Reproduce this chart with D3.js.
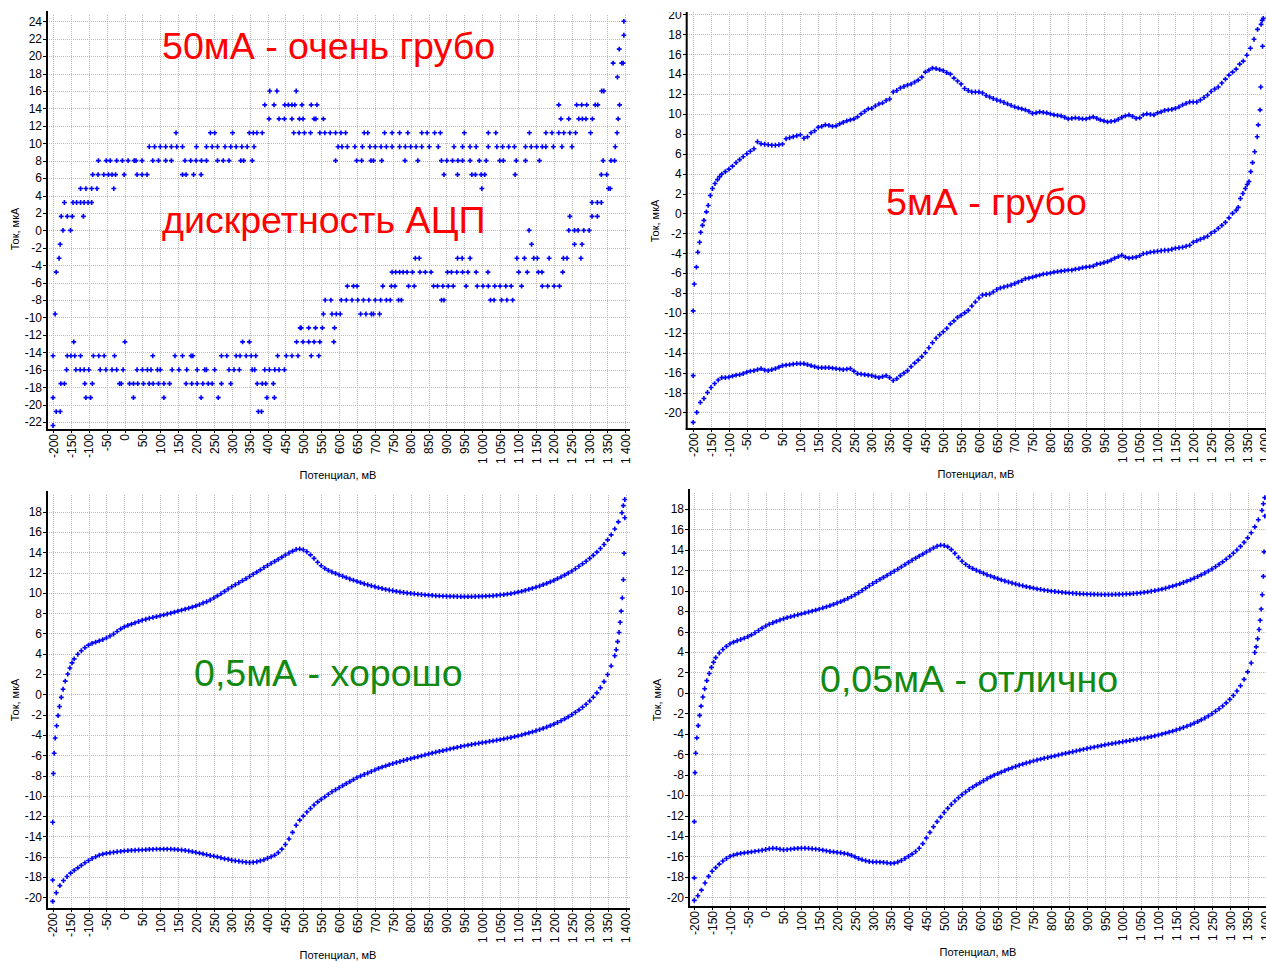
<!DOCTYPE html>
<html>
<head>
<meta charset="utf-8">
<script src="https://cdn.jsdelivr.net/npm/d3@7"></script>
<style>
  body { margin: 0; background: #fff; }
  svg { display: block; font-family: "Liberation Sans", Arial, sans-serif; }
  .grid line { stroke: #bcbcbc; stroke-dasharray: 1,1; shape-rendering: crispEdges; }
  .axis text { font-size: 12px; fill: #000; }
  .axis line { stroke: #000; shape-rendering: crispEdges; }
</style>
</head>
<body>
<svg id="chart" width="1266" height="961"></svg>
<script>
// potential grid, mV (sweep step of the smooth panels)
const potentials = [
  -200,-190,-180,-170,-160,-150,-140,-130,-120,-110,
  -100,-90,-80,-70,-60,-50,-40,-30,-20,-10,
  0,10,20,30,40,50,60,70,80,90,
  100,110,120,130,140,150,160,170,180,190,
  200,210,220,230,240,250,260,270,280,290,
  300,310,320,330,340,350,360,370,380,390,
  400,410,420,430,440,450,460,470,480,490,
  500,510,520,530,540,550,560,570,580,590,
  600,610,620,630,640,650,660,670,680,690,
  700,710,720,730,740,750,760,770,780,790,
  800,810,820,830,840,850,860,870,880,890,
  900,910,920,930,940,950,960,970,980,990,
  1000,1010,1020,1030,1040,1050,1060,1070,1080,1090,
  1100,1110,1120,1130,1140,1150,1160,1170,1180,1190,
  1200,1210,1220,1230,1240,1250,1260,1270,1280,1290,
  1300,1310,1320,1330,1340,1350,1360,1370,1380,1390,
  1400
];

const xTicks = [-200,-150,-100,-50,0,50,100,150,200,250,300,350,400,450,500,550,600,650,700,
  750,800,850,900,950,1000,1050,1100,1150,1200,1250,1300,1350,1400];
const yTicks1 = [-22,-20,-18,-16,-14,-12,-10,-8,-6,-4,-2,0,2,4,6,8,10,12,14,16,18,20,22,24];
const yTicks2 = [-20,-18,-16,-14,-12,-10,-8,-6,-4,-2,0,2,4,6,8,10,12,14,16,18,20];
const yTicks3 = [-20,-18,-16,-14,-12,-10,-8,-6,-4,-2,0,2,4,6,8,10,12,14,16,18];

// ---- panel 1 : 50 mA, ADC levels (uA) and potentials where a point sits on each level
const p1Levels = [24, 22.4, 20.8, 19.2, 17.6, 16, 14.4, 12.8, 11.2, 9.6, 8, 6.4, 4.8, 3.2, 1.6, 0,
  -1.6, -3.2, -4.8, -6.4, -8, -9.6, -11.2, -12.8, -14.4, -16, -17.6, -19.2, -20.8, -22.4];
const p1Potentials = [
  [1396],
  [1396],
  [1383],
  [1366, 1390, 1394],
  [1378],
  [406, 426, 480, 1334, 1340],
  [392, 418, 448, 458, 468, 476, 496, 522, 538, 1214, 1264, 1278, 1292, 1316, 1323, 1384],
  [404, 432, 447, 468, 489, 499, 530, 535, 556, 1220, 1242, 1270, 1280, 1290, 1308, 1380],
  [144, 240, 252, 302, 349, 360, 370, 385, 473, 488, 503, 520, 546, 560, 575, 590, 605, 618, 670, 680,
   727, 748, 769, 792, 831, 846, 867, 883, 950, 1017, 1038, 1132, 1178, 1195, 1214, 1228, 1245, 1261, 1303, 1377],
  [69, 84, 100, 115, 131, 146, 162, 201, 229, 245, 260, 281, 297, 312, 328, 343, 362, 597, 608, 623,
   644, 665, 686, 701, 717, 732, 748, 769, 785, 800, 815, 831, 852, 877, 921, 945, 966, 983, 1017, 1041,
   1057, 1074, 1090, 1121, 1137, 1152, 1168, 1178, 1199, 1223, 1251, 1372],
  [-73, -51, -40, -22, -6, 10, 27, 32, 49, 79, 95, 115, 131, 169, 185, 200, 215, 229, 260, 276,
   292, 325, 333, 357, 590, 649, 663, 689, 696, 719, 784, 820, 886, 901, 917, 932, 945, 966, 992, 1011,
   1049, 1059, 1095, 1121, 1160, 1338, 1360, 1370],
  [-89, -74, -58, -45, -35, -25, -1, 35, 49, 63, 162, 172, 193, 214, 893, 931, 971, 981, 997, 1007, 1092, 1333, 1348],
  [-123, -108, -92, -77, -30, 999, 1353, 1358],
  [-168, -144, -134, -123, -113, -102, -92, 1307, 1322, 1333],
  [-177, -160, -146, -115, 1245, 1307, 1322],
  [-172, -151, 1131, 1242, 1258, 1268, 1284, 1299],
  [-180, 1138, 1258, 1279],
  [-183, 813, 824, 931, 944, 966, 1097, 1118, 1144, 1154, 1187, 1227, 1237, 1276],
  [-191, 748, 758, 769, 779, 790, 805, 826, 841, 857, 903, 914, 929, 945, 960, 983, 1016, 1102, 1126, 1157, 1167, 1225],
  [623, 640, 650, 722, 746, 756, 794, 810, 864, 875, 890, 905, 919, 955, 986, 1002, 1017, 1035, 1050, 1066,
   1081, 1110, 1168, 1183, 1201, 1216],
  [561, 577, 606, 620, 636, 652, 668, 683, 701, 716, 732, 743, 766, 774, 886, 893, 1023, 1033, 1054, 1069, 1085],
  [-194, 556, 580, 592, 603, 660, 675, 690, 696, 713],
  [491, 494, 515, 534, 553, 587],
  [-142, 1, 330, 349, 481, 499, 515, 530, 546, 585],
  [-200, -160, -150, -139, -123, -87, -72, -57, -28, 79, 141, 162, 186, 191, 271, 286, 312, 323, 340, 354,
   367, 428, 452, 468, 485, 522, 543],
  [-162, -136, -124, -113, -100, -68, -52, -35, -22, -4, 35, 50, 64, 74, 92, 100, 133, 152, 174, 203,
   224, 229, 252, 292, 306, 321, 357, 364, 392, 405, 420, 432, 447],
  [-178, -168, -111, -90, -14, -9, 14, 25, 37, 53, 69, 80, 95, 110, 126, 172, 188, 203, 219, 234,
   245, 271, 297, 371, 385, 395, 416],
  [-200, -108, -95, 25, 110, 214, 262, 398, 419],
  [-191, -180, 374, 383],
  [-200]
];

// ---- panel 2 : 5 mA
const p2Fwd = [
  null,null,null,null,null,null,null,null,3.95,4.2,
  4.45,4.75,5.1,5.4,5.7,6.0,6.25,6.5,7.2,7.0,
  6.95,6.9,6.85,6.85,6.9,6.97,7.5,7.6,7.7,7.8,
  7.9,7.55,7.7,8.1,8.3,8.65,8.75,8.9,8.85,8.75,
  8.8,9.0,9.15,9.3,9.4,9.5,9.7,10.0,10.25,10.5,
  10.55,10.8,11.0,11.1,11.35,11.5,12.2,12.35,12.6,12.75,
  12.9,13.0,13.2,13.4,13.7,14.2,14.4,14.6,14.55,14.45,
  14.35,14.15,14.0,13.6,13.3,13.0,12.55,12.35,12.2,12.2,
  12.2,12.1,11.85,11.7,11.55,11.4,11.3,11.15,11.0,10.85,
  10.7,10.6,10.5,10.4,10.25,10.05,10.1,10.2,10.15,10.1,
  10.0,9.9,9.85,9.8,9.65,9.5,9.55,9.6,9.55,9.5,
  9.5,9.6,9.7,9.55,9.4,9.3,9.2,9.25,9.3,9.45,
  9.65,9.8,9.9,9.75,9.55,9.6,9.9,10.0,9.95,9.9,
  10.1,10.2,10.35,10.4,10.45,10.55,10.7,10.9,11.05,11.2,
  11.2,11.2,11.4,11.65,11.9,12.25,12.5,12.7,13.1,13.5,
  13.9,14.2,14.5,15.0,15.3,15.9,16.6,17.5,18.5,19.0,
  null
];
const p2Rev = [
  -21.0,-20.0,-19.0,-18.6,-18.0,-17.5,-17.1,-16.75,-16.5,-16.5,
  -16.45,-16.35,-16.25,-16.2,-16.1,-15.95,-15.85,-15.8,-15.7,-15.6,
  -15.75,-15.8,-15.7,-15.6,-15.45,-15.3,-15.25,-15.2,-15.15,-15.1,
  -15.1,-15.1,-15.2,-15.3,-15.4,-15.5,-15.5,-15.5,-15.5,-15.55,
  -15.6,-15.65,-15.7,-15.65,-15.6,-15.85,-16.1,-16.15,-16.2,-16.25,
  -16.3,-16.4,-16.5,-16.4,-16.3,-16.5,-16.8,-16.6,-16.3,-16.05,
  -15.8,-15.4,-15.05,-14.75,-14.4,-14.0,-13.5,-13.0,-12.55,-12.2,
  -11.9,-11.55,-11.1,-10.8,-10.45,-10.25,-10.0,-9.75,-9.3,-8.9,
  -8.5,-8.2,-8.15,-8.1,-7.9,-7.65,-7.5,-7.4,-7.3,-7.2,
  -7.05,-6.9,-6.75,-6.55,-6.5,-6.4,-6.3,-6.2,-6.1,-6.05,
  -6.0,-5.9,-5.85,-5.8,-5.75,-5.7,-5.7,-5.6,-5.55,-5.45,
  -5.4,-5.35,-5.3,-5.1,-5.05,-4.95,-4.85,-4.7,-4.5,-4.35,
  -4.2,-4.4,-4.5,-4.45,-4.4,-4.25,-4.05,-4.0,-3.9,-3.85,
  -3.8,-3.75,-3.7,-3.7,-3.6,-3.5,-3.45,-3.4,-3.3,-3.2,
  -2.9,-2.75,-2.6,-2.45,-2.3,-2.0,-1.8,-1.5,-1.2,-0.9,
  -0.45,0.0,0.3,null,null,null,null,null,null,null,
  null
];
const p2Edges = [[-200,-16.3],[-200,-9.8],[-197,-7.1],[-191,-5.4],[-187,-3.9],[-182,-2.9],[-179,-1.9],
  [-174,-1.2],[-170,-0.7],[-163,0.15],[-158,0.8],[-152,1.8],[-146,2.5],[-139,3.0],[-132,3.4],[-126,3.7],
  [1393,19.4],[1396,19.6],
  [1326,0.6],[1332,1.5],[1339,2.0],[1346,2.5],[1351,2.9],[1356,3.2],[1361,4.2],[1366,5.1],[1372,6.2],
  [1379,7.7],[1382,8.9],[1387,10.4],[1389,12.7],[1394,16.8]];

// ---- panel 3 : 0,5 mA
const p3Fwd = [
  null,null,null,null,null,null,3.5,3.95,4.3,4.6,
  4.85,5.02,5.15,5.27,5.4,5.56,5.75,5.95,6.2,6.45,
  6.65,6.8,6.92,7.05,7.18,7.3,7.4,7.5,7.58,7.66,
  7.75,7.83,7.92,8.0,8.1,8.2,8.3,8.4,8.5,8.6,
  8.72,8.85,9.0,9.13,9.3,9.5,9.7,9.92,10.15,10.38,
  10.6,10.8,11.0,11.2,11.4,11.62,11.83,12.05,12.27,12.5,
  12.7,12.9,13.1,13.3,13.52,13.73,13.93,14.12,14.28,14.33,
  14.25,14.05,13.75,13.4,13.02,12.68,12.42,12.22,12.06,11.92,
  11.78,11.64,11.5,11.37,11.25,11.13,11.01,10.9,10.8,10.7,
  10.6,10.51,10.43,10.35,10.28,10.21,10.15,10.09,10.04,9.99,
  9.95,9.91,9.87,9.84,9.81,9.78,9.75,9.72,9.7,9.68,
  9.67,9.66,9.65,9.64,9.63,9.63,9.63,9.63,9.64,9.65,
  9.66,9.68,9.7,9.72,9.75,9.79,9.83,9.88,9.93,10.0,
  10.07,10.15,10.25,10.35,10.45,10.56,10.68,10.81,10.94,11.08,
  11.23,11.4,11.57,11.75,11.95,12.15,12.38,12.62,12.87,13.12,
  13.4,13.7,14.02,14.37,14.77,15.22,15.72,16.3,17.0,17.9,
  null
];
const p3Rev = [
  -20.4,-19.55,-18.85,-18.35,-17.95,-17.62,-17.35,-17.1,-16.85,-16.6,
  -16.38,-16.18,-16.0,-15.85,-15.75,-15.67,-15.61,-15.56,-15.51,-15.47,
  -15.43,-15.4,-15.38,-15.36,-15.34,-15.32,-15.3,-15.28,-15.27,-15.26,
  -15.25,-15.25,-15.25,-15.26,-15.28,-15.3,-15.34,-15.38,-15.44,-15.5,
  -15.58,-15.65,-15.72,-15.8,-15.88,-15.95,-16.02,-16.1,-16.2,-16.25,
  -16.35,-16.4,-16.45,-16.5,-16.55,-16.57,-16.55,-16.5,-16.4,-16.3,
  -16.15,-16.0,-15.85,-15.6,-15.25,-14.8,-14.25,-13.6,-12.9,-12.4,
  -12.0,-11.6,-11.25,-10.9,-10.6,-10.35,-10.1,-9.85,-9.6,-9.4,
  -9.2,-9.0,-8.8,-8.6,-8.4,-8.2,-8.05,-7.9,-7.75,-7.6,
  -7.45,-7.3,-7.17,-7.05,-6.93,-6.82,-6.72,-6.62,-6.52,-6.42,
  -6.33,-6.24,-6.15,-6.06,-5.97,-5.88,-5.79,-5.7,-5.62,-5.54,
  -5.46,-5.38,-5.3,-5.22,-5.14,-5.07,-5.0,-4.94,-4.88,-4.82,
  -4.76,-4.7,-4.64,-4.58,-4.52,-4.46,-4.39,-4.32,-4.25,-4.17,
  -4.09,-4.0,-3.9,-3.8,-3.7,-3.59,-3.47,-3.35,-3.22,-3.08,
  -2.93,-2.77,-2.6,-2.42,-2.22,-2.0,-1.77,-1.53,-1.27,-0.98,
  -0.65,-0.28,0.15,0.65,1.25,1.95,2.8,3.8,null,null,
  null
];
const p3Edges = [[-200,-18.3],[-200,-12.6],[-198,-7.8],[-196,-5.8],[-193,-4.3],[-189,-3.1],[-185,-2.1],
  [-181,-1.2],[-176,-0.3],[-171,0.5],[-165,1.3],[-158,2.0],[-152,2.6],[-146,3.1],
  [1394,18.6],[1398,19.2],
  [1374,4.4],[1378,5.2],[1382,6.1],[1385,7.1],[1388,8.2],[1391,9.5],[1394,11.3],[1396,13.9],[1398,17.4]];

// ---- panel 4 : 0,05 mA
const p4Fwd = [
  null,null,null,null,null,null,3.45,3.9,4.25,4.55,
  4.8,4.97,5.1,5.22,5.35,5.5,5.68,5.88,6.1,6.33,
  6.55,6.72,6.86,7.0,7.13,7.25,7.36,7.46,7.55,7.64,
  7.73,7.82,7.91,8.0,8.1,8.2,8.31,8.42,8.54,8.66,
  8.79,8.93,9.08,9.24,9.41,9.6,9.8,10.02,10.25,10.48,
  10.7,10.9,11.1,11.3,11.5,11.7,11.9,12.1,12.32,12.55,
  12.77,12.98,13.18,13.38,13.58,13.78,13.98,14.18,14.35,14.45,
  14.42,14.28,14.02,13.65,13.25,12.88,12.58,12.35,12.16,12.0,
  11.85,11.7,11.56,11.43,11.3,11.18,11.06,10.95,10.85,10.75,
  10.65,10.56,10.48,10.4,10.32,10.25,10.18,10.12,10.06,10.01,
  9.96,9.92,9.88,9.84,9.81,9.78,9.75,9.72,9.7,9.68,
  9.66,9.65,9.64,9.63,9.62,9.62,9.62,9.62,9.63,9.64,
  9.65,9.67,9.69,9.72,9.75,9.79,9.83,9.88,9.94,10.0,
  10.07,10.15,10.24,10.34,10.44,10.55,10.67,10.8,10.93,11.07,
  11.22,11.38,11.55,11.73,11.92,12.12,12.34,12.57,12.82,13.08,
  13.36,13.66,13.98,14.33,14.72,15.16,15.66,16.24,16.94,17.85,
  null
];
const p4Rev = [
  -20.3,-19.85,-19.3,-18.6,-17.95,-17.45,-17.1,-16.75,-16.45,-16.2,
  -16.0,-15.88,-15.78,-15.7,-15.65,-15.6,-15.56,-15.5,-15.45,-15.4,
  -15.32,-15.25,-15.2,-15.22,-15.3,-15.35,-15.33,-15.28,-15.24,-15.21,
  -15.2,-15.2,-15.22,-15.25,-15.28,-15.32,-15.38,-15.45,-15.52,-15.56,
  -15.6,-15.64,-15.7,-15.78,-15.9,-16.05,-16.2,-16.32,-16.42,-16.5,
  -16.54,-16.55,-16.56,-16.58,-16.62,-16.68,-16.66,-16.55,-16.4,-16.2,
  -16.0,-15.78,-15.52,-15.2,-14.75,-14.2,-13.65,-13.1,-12.6,-12.15,
  -11.7,-11.3,-10.92,-10.58,-10.26,-9.96,-9.7,-9.45,-9.22,-9.0,
  -8.8,-8.6,-8.4,-8.22,-8.05,-7.9,-7.75,-7.6,-7.46,-7.33,
  -7.2,-7.08,-6.97,-6.86,-6.76,-6.66,-6.57,-6.48,-6.4,-6.32,
  -6.24,-6.16,-6.08,-6.0,-5.92,-5.84,-5.76,-5.68,-5.6,-5.52,
  -5.44,-5.37,-5.3,-5.23,-5.16,-5.09,-5.02,-4.96,-4.9,-4.84,
  -4.78,-4.72,-4.66,-4.6,-4.54,-4.48,-4.42,-4.35,-4.28,-4.2,
  -4.12,-4.03,-3.94,-3.84,-3.74,-3.63,-3.51,-3.39,-3.26,-3.12,
  -2.97,-2.81,-2.64,-2.46,-2.26,-2.04,-1.8,-1.55,-1.28,-0.98,
  -0.64,-0.26,0.18,0.7,1.32,2.05,2.92,3.95,null,null,
  null
];
const p4Edges = [[-200,-18.1],[-200,-12.6],[-198,-7.8],[-196,-5.9],[-193,-4.4],[-189,-3.2],[-185,-2.2],
  [-181,-1.3],[-176,-0.4],[-171,0.4],[-165,1.2],[-158,1.9],[-152,2.5],[-146,3.0],
  [1394,18.5],[1398,19.1],
  [1374,4.5],[1378,5.3],[1382,6.2],[1385,7.1],[1388,8.2],[1391,9.6],[1394,11.4],[1396,13.8],[1398,17.3]];

const notes = [
  { text: "50мА - очень грубо", color: "#ff0000" },
  { text: "дискретность АЦП", color: "#ff0000" },
  { text: "5мА - грубо", color: "#ff0000" },
  { text: "0,5мА - хорошо", color: "#118a11" },
  { text: "0,05мА - отлично", color: "#118a11" }
];

// ---------------------------------------------------------------
const svg = d3.select('#chart');
const loc = d3.formatLocale({ decimal: ",", thousands: " ", grouping: [3], currency: ["", ""], minus: "-" });
const fmtX = loc.format(",d");
const fmtY = loc.format("d");
const marker = d3.symbol().type(d3.symbolCross).size(13);

function sweep(vals) {
  return potentials.map((p, i) => [p, vals[i]]).filter(d => d[1] !== null);
}

const p1Points = p1Levels.flatMap((lv, i) => p1Potentials[i].map(p => [p, lv]));

const layout = [
  { pts: p1Points, yTicks: yTicks1, xr: [53, 625.3], yd: [24, -22], yr: [21.3, 422],
    box: [47, 630, 15, 430], yLab: [15, 229], xLab: [338, 475], note: [[0, 162, 59], [1, 162, 233]] },
  { pts: sweep(p2Fwd).concat(sweep(p2Rev), p2Edges), yTicks: yTicks2, xr: [693.2, 1264.7], yd: [20, -20], yr: [14.4, 412.4],
    box: [686.7, 1272, 12, 429], yLab: [655, 221], xLab: [976, 474], note: [[2, 886, 215]], clipTop: 12 },
  { pts: sweep(p3Fwd).concat(sweep(p3Rev), p3Edges), yTicks: yTicks3, xr: [52.7, 625.5], yd: [18, -20], yr: [511.7, 897.3],
    box: [47, 630, 495, 909], yLab: [15, 700], xLab: [338, 955], note: [[3, 194, 686]] },
  { pts: sweep(p4Fwd).concat(sweep(p4Rev), p4Edges), yTicks: yTicks3, xr: [694.3, 1265.5], yd: [18, -20], yr: [508.9, 897.3],
    box: [689, 1272, 493, 907], yLab: [657, 700], xLab: [978, 952], note: [[4, 820, 692]] }
];

layout.forEach((cfg, k) => {
  const [L, R, T, B] = cfg.box;
  const x = d3.scaleLinear().domain([-200, 1400]).range(cfg.xr);
  const y = d3.scaleLinear().domain(cfg.yd).range(cfg.yr);
  const g = svg.append('g');

  if (cfg.clipTop) {
    svg.append('clipPath').attr('id', 'clip' + k)
      .append('rect').attr('x', L - 60).attr('y', cfg.clipTop).attr('width', 700).attr('height', 600);
    g.attr('clip-path', `url(#clip${k})`);
  }

  // dotted grid
  const grid = g.append('g').attr('class', 'grid');
  grid.selectAll('.gx').data(xTicks).join('line')
    .attr('x1', d => Math.round(x(d)) + 0.5).attr('x2', d => Math.round(x(d)) + 0.5)
    .attr('y1', T).attr('y2', B);
  grid.selectAll('.gy').data(cfg.yTicks).join('line')
    .attr('y1', d => Math.round(y(d)) + 0.5).attr('y2', d => Math.round(y(d)) + 0.5)
    .attr('x1', L).attr('x2', R);

  // y axis
  const ya = g.append('g').attr('class', 'axis').attr('transform', `translate(${L},0)`)
    .call(d3.axisLeft(y).tickValues(cfg.yTicks).tickFormat(fmtY).tickSize(4).tickPadding(1).tickSizeOuter(0));
  ya.select('.domain').remove();

  // x axis
  const xa = g.append('g').attr('class', 'axis').attr('transform', `translate(0,${B})`)
    .call(d3.axisBottom(x).tickValues(xTicks).tickFormat(fmtX).tickSize(3).tickSizeOuter(0));
  xa.select('.domain').remove();
  xa.selectAll('text')
    .attr('transform', 'rotate(-90)')
    .attr('x', -4).attr('y', 0).attr('dy', '0.35em')
    .style('text-anchor', 'end');

  g.append('line').attr('x1', L).attr('x2', L).attr('y1', T - 4).attr('y2', B + 1)
    .attr('stroke', '#000').attr('stroke-width', 2);
  g.append('line').attr('x1', L - 1).attr('x2', R).attr('y1', B).attr('y2', B)
    .attr('stroke', '#000').attr('stroke-width', 2);

  // annotations (behind the marks)
  cfg.note.forEach(([i, tx, ty]) => {
    g.append('text').attr('x', tx).attr('y', ty)
      .attr('font-size', 37.6).attr('fill', notes[i].color)
      .text(notes[i].text);
  });

  // measured points
  g.append('g').selectAll('path').data(cfg.pts).join('path')
    .attr('transform', d => `translate(${x(d[0])},${y(d[1])})`)
    .attr('d', marker)
    .attr('fill', '#0000ff');

  // axis titles
  svg.append('text')
    .attr('transform', `translate(${cfg.yLab[0]},${cfg.yLab[1]}) rotate(-90)`)
    .attr('dy', '0.35em').attr('text-anchor', 'middle')
    .attr('font-size', 11).text('Ток, мкА');
  svg.append('text')
    .attr('x', cfg.xLab[0]).attr('y', cfg.xLab[1]).attr('dy', '0.35em')
    .attr('text-anchor', 'middle').attr('font-size', 11).text('Потенциал, мВ');
});
</script>
</body>
</html>
